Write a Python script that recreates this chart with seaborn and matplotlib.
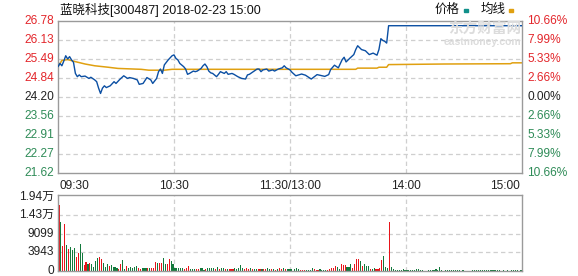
import matplotlib
matplotlib.use("Agg")
import matplotlib.pyplot as plt
from matplotlib.patches import Rectangle
import seaborn as sns
import pandas as pd
import numpy as np

# ---------------- data ----------------
title = "蓝晓科技[300487] 2018-02-23 15:00"
prev_close = 24.20
price_ticks = [26.78, 26.13, 25.49, 24.84, 24.20, 23.56, 22.91, 22.27, 21.62]
pct_labels = ["10.66%", "7.99%", "5.33%", "2.66%", "0.00%", "2.66%", "5.33%", "7.99%", "10.66%"]
time_labels = ["09:30", "10:30", "11:30/13:00", "14:00", "15:00"]
vol_tick_labels = ["0", "3943", "9099", "1.43万", "1.94万"]
vol_top = 19400

# minute-of-session (0..240) and price sampled from the chart
price_t = [0, 1, 2, 3, 4, 5, 6, 7, 8, 9, 10, 11, 12, 14, 16, 17, 19, 20, 21, 22,
           23, 24, 25, 26, 27, 29, 30, 32, 34, 36, 37, 39, 41, 42, 44, 46, 48, 49, 51, 52,
           53, 54, 55, 57, 59, 60, 61, 62, 63, 65, 66, 67, 68, 70, 71, 72, 74, 75, 76, 77,
           78, 79, 80, 82, 83, 84, 86, 87, 88, 90, 91, 93, 95, 97, 98, 99, 101, 103, 104, 105,
           106, 108, 109, 111, 112, 114, 116, 117, 118, 120, 121, 123, 124, 126, 128, 131, 134, 138, 140, 141,
           143, 145, 147, 148, 149, 151, 153, 154, 155, 157, 159, 161, 163, 165, 166, 167, 168, 169, 170, 171,
           240]
price_v = [25.23, 25.34, 25.26, 25.42, 25.60, 25.49, 25.57, 25.46, 25.38, 25.00, 24.89, 24.95, 24.89, 24.91, 24.83, 24.87, 24.78, 24.72, 24.50, 24.32,
           24.50, 24.58, 24.52, 24.55, 24.58, 24.72, 24.66, 24.80, 24.92, 24.83, 24.86, 24.83, 24.78, 24.63, 24.66, 24.86, 24.78, 24.66, 24.83, 25.06,
           25.15, 25.00, 25.29, 25.46, 25.60, 25.63, 25.51, 25.46, 25.34, 25.23, 25.15, 24.97, 25.00, 25.08, 25.06, 25.08, 25.17, 25.26, 25.32, 25.23,
           25.08, 25.02, 25.00, 24.89, 24.97, 25.06, 25.00, 25.06, 24.97, 25.00, 24.97, 24.89, 24.83, 24.81, 24.95, 24.97, 25.06, 25.15, 25.15, 25.06,
           25.12, 25.15, 25.08, 25.12, 25.08, 25.15, 25.19, 25.26, 25.19, 25.12, 25.04, 24.92, 24.94, 24.98, 24.94, 24.81, 24.96, 24.90, 24.96, 25.13,
           25.28, 25.19, 25.47, 25.55, 25.39, 25.52, 25.64, 25.81, 25.94, 25.81, 25.77, 25.64, 25.69, 25.62, 25.81, 26.18, 26.12, 26.09, 26.03, 26.62,
           26.62]

avg_t = [0, 2, 5, 9, 14, 19, 26, 31, 43, 47, 55, 59, 154, 155, 165, 166, 170, 171, 200, 234, 235, 240]
avg_v = [25.23, 25.44, 25.47, 25.40, 25.32, 25.26, 25.21, 25.17, 25.14, 25.11, 25.11, 25.14, 25.14, 25.18, 25.18, 25.21, 25.21, 25.30, 25.32, 25.33, 25.36, 25.36]

# per-minute volume (hands) and direction (r = up, g = down/flat)
volume = [
    17226, 12876, 6612, 12267, 6786, 5742, 6177, 5481, 6090, 3741,
    4611, 7047, 4698, 1566, 2436, 1827, 2001, 1827, 1131, 2610,
    3306, 3741, 3132, 2088, 1131, 1827, 1392, 1566, 1131, 1131,
    696, 609, 1827, 2871, 609, 1305, 870, 1131, 696, 1131,
    1392, 696, 609, 870, 870, 870, 696, 870, 696, 870,
    2436, 2001, 2175, 2001, 3480, 1740, 1740, 3045, 2697, 1827,
    696, 870, 696, 870, 783, 609, 870, 1305, 609, 609,
    522, 609, 609, 783, 783, 348, 609, 696, 870, 696,
    696, 522, 957, 609, 783, 783, 609, 609, 522, 522,
    609, 696, 522, 870, 1566, 870, 609, 783, 609, 870,
    609, 609, 609, 522, 435, 609, 609, 609, 783, 435,
    609, 435, 348, 522, 783, 609, 783, 609, 609, 609,
    522, 0, 609, 870, 609, 261, 261, 261, 261, 261,
    261, 870, 522, 261, 261, 522, 261, 261, 261, 261,
    522, 696, 870, 1305, 1131, 522, 1827, 1566, 1566, 1131,
    1131, 1827, 696, 1827, 3132, 3132, 2697, 1305, 1827, 1305,
    1305, 522, 522, 696, 522, 522, 696, 2871, 3915, 957,
    696, 12876, 957, 522, 261, 261, 261, 261, 522, 261,
    261, 261, 261, 261, 261, 522, 522, 261, 261, 0,
    0, 261, 261, 261, 261, 522, 261, 1044, 261, 0,
    261, 261, 261, 261, 261, 261, 261, 261, 0, 261,
    0, 0, 0, 0, 261, 261, 261, 261, 261, 261,
    261, 261, 261, 348, 261, 261, 261, 261, 261, 0,
    261, 0, 261, 0, 261, 261, 348, 261, 0, 261,
]
vol_dir = ("rgrrgrgggr" "rggrrgrggg" "grrgggrggg" "grrggrgggg" "grrgggrgrr" "rgrrggrrgg"
           "gggggrrrgg" "grrgggrggg" "grgrggrgrr" "rgggggrrrg" "rggrrgrrgg" "rgrgrrgrgg"
           "gggggrrrgg" "ggrrrggggr" "rrrrggrrrg" "ggrrrrgrgg" "grggrrrrgg" "grgggggggg"
           "gggggggggg" "gggggggggg" "gggggggggg" "gggggggggg" "gggggggggg" "gggggggggg")

# ---------------- style ----------------
sns.set_style("white")
plt.rcParams['font.family'] = ['Liberation Sans', 'Noto Sans CJK SC', 'DejaVu Sans']

RED = '#e3262b'
GREEN = '#2e8b57'
BAR_RED = '#e8141a'
BAR_GREEN = '#13793c'
GRID = '#cfcfcf'
SPINE = '#9a9a9a'
FS = 8.6

W, H = 578, 276
fig = plt.figure(figsize=(W / 100, H / 100), dpi=100)
fig.patch.set_facecolor('white')

L, R = 58, 522
ax = fig.add_axes([L / W, 1 - 173 / H, (R - L) / W, (173 - 21) / H])
axv = fig.add_axes([L / W, 1 - 271 / H, (R - L) / W, (271 - 195) / H])

# ---------------- price panel ----------------
df_p = pd.DataFrame({"t": price_t, "price": price_v})
df_a = pd.DataFrame({"t": avg_t, "avg": avg_v})
ymin, ymax = price_ticks[-1], price_ticks[0]

for t in price_ticks[1:-1]:
    ax.axhline(t, color=GRID, lw=0.9, ls=(0, (3.5, 2.5)), zorder=0)
for m in [60, 120, 180]:
    ax.axvline(m, color=GRID, lw=0.9, ls=(0, (3.5, 2.5)), zorder=0)
    axv.axvline(m, color=GRID, lw=0.9, ls=(0, (3.5, 2.5)), zorder=0)

sns.lineplot(data=df_a, x="t", y="avg", ax=ax, color='#e0a010', lw=1.1, zorder=2)
sns.lineplot(data=df_p, x="t", y="price", ax=ax, color='#0b4fa3', lw=1.0, zorder=3)

ax.set_xlim(0, 240)
ax.set_ylim(ymin, ymax)
ax.set_xticks([])
ax.set_yticks([])
ax.set_xlabel("")
ax.set_ylabel("")
for s in ax.spines.values():
    s.set_color(SPINE)
    s.set_linewidth(1.0)

ytr = ax.get_yaxis_transform()
for t, lab in zip(price_ticks, pct_labels):
    if t > prev_close + 1e-6:
        c = RED
    elif t < prev_close - 1e-6:
        c = GREEN
    else:
        c = '#222222'
    ax.text(-4 / (R - L), t, f"{t:.2f}", transform=ytr, ha='right', va='center',
            fontsize=FS, color=c)
    ax.text(1 + 5 / (R - L), t, lab, transform=ytr, ha='left', va='center',
            fontsize=FS, color=c)

# time labels between panels
ty = -(186 - 173) / (173 - 21)
xpos = [2 / (R - L), 0.25, 0.5, 0.75, 1 - 2 / (R - L)]
has = ['left', 'center', 'center', 'center', 'right']
for xp, lab, ha in zip(xpos, time_labels, has):
    ax.text(xp, ty, lab, transform=ax.transAxes, ha=ha, va='center', fontsize=FS, color='#222222')

# ---------------- volume panel ----------------
vtop = vol_top * (271 - 195) / (271 - 196.7)
df_v = pd.DataFrame({"m": np.arange(len(volume)) + 0.5, "vol": volume, "dir": list(vol_dir)})
for k in [1, 2, 3]:
    axv.axhline(vol_top * k / 4, color=GRID, lw=0.9, ls=(0, (3.5, 2.5)), zorder=0)
for d, col in [("r", BAR_RED), ("g", BAR_GREEN)]:
    sub = df_v[df_v["dir"] == d]
    axv.bar(sub["m"], sub["vol"], width=0.6, color=col, linewidth=0, zorder=2,
            antialiased=False)
axv.set_xlim(0, 240)
axv.set_ylim(0, vtop)
axv.set_xticks([])
axv.set_yticks([])
for s in axv.spines.values():
    s.set_color(SPINE)
    s.set_linewidth(1.0)
vtr = axv.get_yaxis_transform()
for k, lab in enumerate(vol_tick_labels):
    axv.text(-4 / (R - L), vol_top * k / 4, lab, transform=vtr, ha='right', va='center',
             fontsize=FS, color='#222222')

# ---------------- header ----------------
fig.text(60 / W, 1 - 10 / H, title, ha='left', va='center', fontsize=9, color='#111111')
fig.text(435 / W, 1 - 10 / H, "价格", ha='left', va='center', fontsize=9, color='#111111')
fig.patches.append(Rectangle((464 / W, 1 - 12 / H), 4 / W, 3 / H, transform=fig.transFigure,
                             color='#10908a', figure=fig))
fig.text(481 / W, 1 - 10 / H, "均线", ha='left', va='center', fontsize=9, color='#111111')
fig.patches.append(Rectangle((509 / W, 1 - 12 / H), 4 / W, 3 / H, transform=fig.transFigure,
                             color='#e0a010', figure=fig))

# watermark
fig.text(521 / W, 1 - 30 / H, "东方财富网", ha='right', va='center', fontsize=10.5,
         color='#dcdcdc', fontweight='bold', zorder=0)
fig.text(521 / W, 1 - 42 / H, "eastmoney.com", ha='right', va='center', fontsize=7.5,
         color='#dcdcdc', fontweight='bold', zorder=0)

fig.savefig("out.png", dpi=100)
